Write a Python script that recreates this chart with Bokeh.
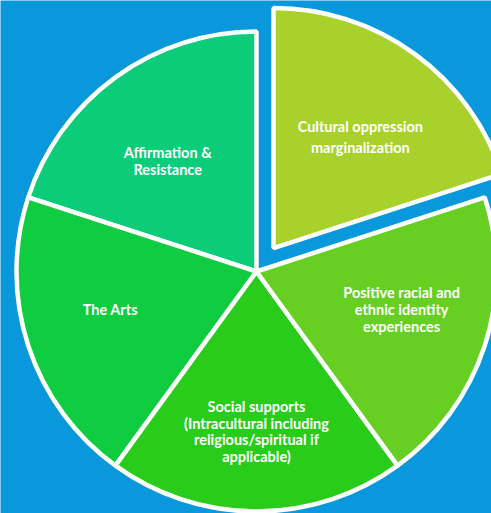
import numpy as np
from bokeh.plotting import figure
from bokeh.models import ColumnDataSource
from bokeh.core.properties import value
from bokeh.embed import file_html
from bokeh.resources import INLINE

# ---- data ----
categories = [
    "Cultural oppression\nmarginalization",
    "Affirmation &\nResistance",
    "The Arts",
    "Social supports\n(Intracultural including\nreligious/spiritual if\napplicable)",
    "Positive racial and\nethnic identity\nexperiences",
]
values = [1, 1, 1, 1, 1]
explode = [1, 0, 0, 0, 0]
colors = ["#A8D12B", "#0ACC79", "#10CC40", "#29CC1A", "#67CF22"]

# ---- layout ----
W, H = 491, 513
CX, CY = 256, 513 - 271
R = 240
OFFSET = 29
START = np.deg2rad(18)
LABEL_R = np.array([141, 142, 151, 160, 150])
LABEL_NUDGE = np.deg2rad([-2, 2.7, -3.4, 0, 3.3])

vals = np.array(values, dtype=float)
ang = vals / vals.sum() * 2 * np.pi
end = START + np.cumsum(ang)
start = end - ang
mid = (start + end) / 2
ex = np.array(explode, dtype=float)
xs = CX + ex * OFFSET * np.cos(mid)
ys = CY + ex * OFFSET * np.sin(mid)
la = mid + LABEL_NUDGE
lx = xs + LABEL_R * np.cos(la)
ly = ys + LABEL_R * np.sin(la)

src = ColumnDataSource(dict(x=xs, y=ys, start=start, end=end, color=colors))

p = figure(width=W, height=H, x_range=(0, W), y_range=(0, H),
           output_backend="svg", toolbar_location=None, min_border=0,
           background_fill_color="#0A98DD", border_fill_color="#0A98DD",
           outline_line_color=None)
p.axis.visible = False
p.grid.visible = False

p.wedge(x="x", y="y", radius=R, start_angle="start", end_angle="end",
        fill_color="color", line_color="white", line_width=4.5, source=src)

main = ColumnDataSource(dict(x=lx[1:], y=ly[1:], t=categories[1:]))
p.text(x="x", y="y", text="t", source=main, text_color="white",
       text_font=value("Lato"), text_font_style="bold", text_font_size="14.5px",
       text_align="center", text_baseline="middle", text_line_height=0.98)

first = ColumnDataSource(dict(x=lx[:1], y=ly[:1], t=categories[:1]))
p.text(x="x", y="y", text="t", source=first, text_color="white",
       text_font=value("Lato"), text_font_style="bold", text_font_size="14.5px",
       text_align="center", text_baseline="middle", text_line_height=1.26)

open("out.html", "w").write(file_html(p, INLINE))
